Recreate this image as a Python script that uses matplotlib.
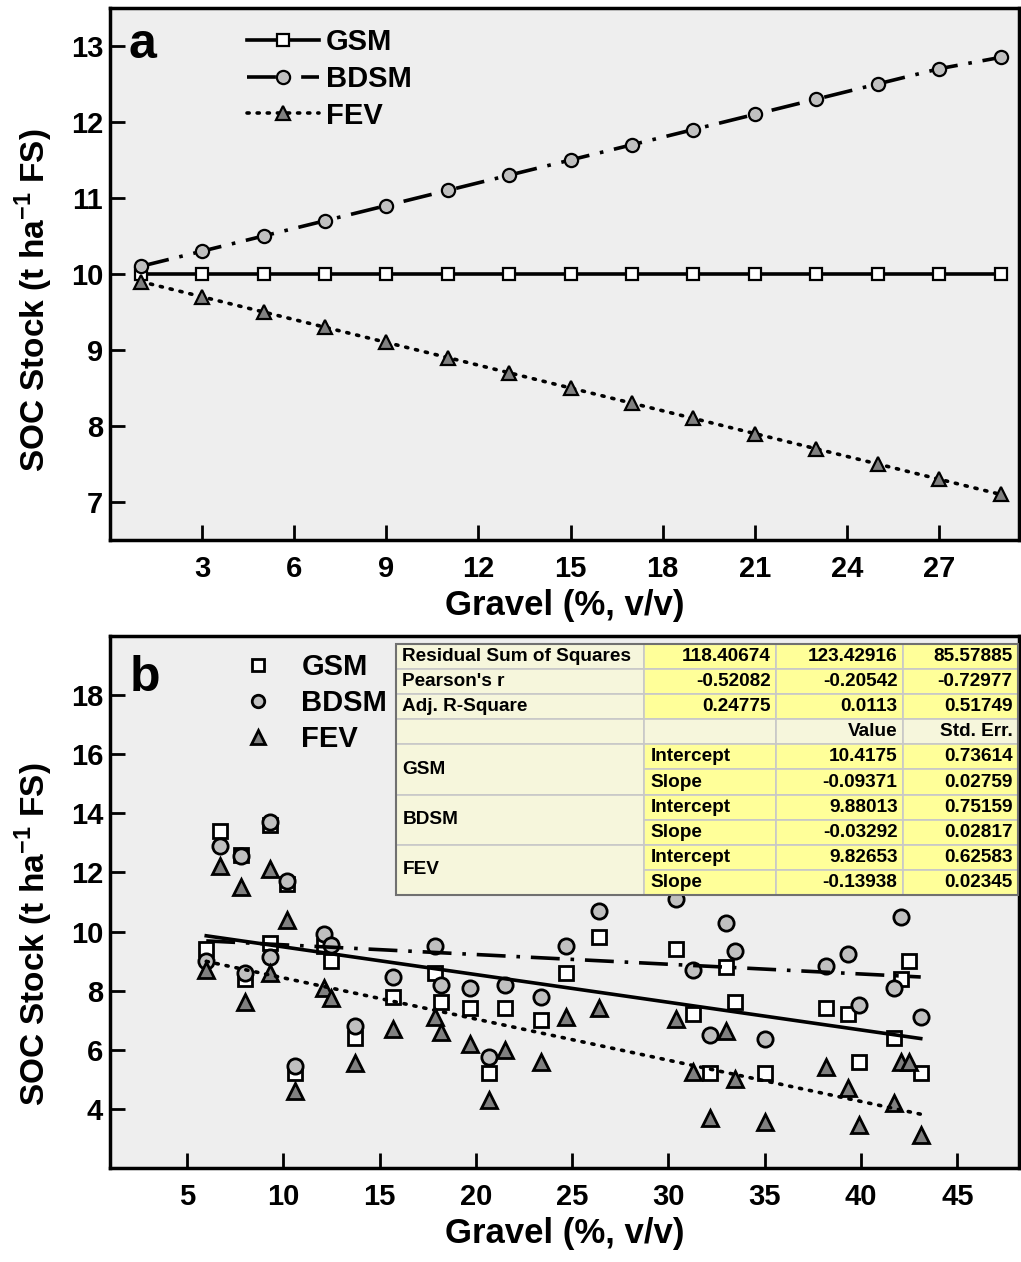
import numpy as np
import matplotlib
matplotlib.use('Agg')
import matplotlib.pyplot as plt
from matplotlib.patches import Rectangle
from matplotlib.lines import Line2D

plt.rcParams['font.family'] = ['Liberation Sans', 'DejaVu Sans']
plt.rcParams['font.weight'] = 'bold'
plt.rcParams['mathtext.fontset'] = 'custom'
plt.rcParams['mathtext.rm'] = 'Liberation Sans:bold'
plt.rcParams['mathtext.bf'] = 'Liberation Sans:bold'

# panel a: modelled stock vs gravel
gravel_a = [1, 3, 5, 7, 9, 11, 13, 15, 17, 19, 21, 23, 25, 27, 29]
gsm_a = [10, 10, 10, 10, 10, 10, 10, 10, 10, 10, 10, 10, 10, 10, 10]
bdsm_a = [10.1, 10.3, 10.5, 10.7, 10.9, 11.1, 11.3, 11.5, 11.7, 11.9, 12.1, 12.3, 12.5, 12.7, 12.85]
fev_a = [9.9, 9.7, 9.5, 9.3, 9.1, 8.9, 8.7, 8.5, 8.3, 8.1, 7.9, 7.7, 7.5, 7.3, 7.1]

# panel b: field samples
gravel_b = [6.0, 6.7, 7.8, 8.0, 9.3, 9.3, 10.2, 10.6, 12.1, 12.5, 13.7, 15.7, 17.9, 18.2,
            19.7, 20.7, 21.5, 23.4, 24.7, 26.4, 30.4, 31.25, 32.15, 33.0, 33.45, 35.0,
            38.2, 39.3, 39.9, 41.7, 42.1, 42.5, 43.1]
gsm_b = [9.4, 13.4, 12.6, 8.4, 13.6, 9.6, 11.6, 5.2, 9.5, 9.0, 6.4, 7.8, 8.6, 7.6,
         7.4, 5.2, 7.4, 7.0, 8.6, 9.8, 9.4, 7.2, 5.2, 8.8, 7.6, 5.2,
         7.4, 7.2, 5.6, 6.4, 8.4, 9.0, 5.2]
bdsm_b = [9.0, 12.9, 12.55, 8.6, 13.7, 9.15, 11.7, 5.45, 9.9, 9.55, 6.8, 8.45, 9.5, 8.2,
          8.1, 5.75, 8.2, 7.8, 9.5, 10.7, 11.1, 8.7, 6.5, 10.3, 9.35, 6.35,
          8.85, 9.25, 7.5, 8.1, 10.5, 11.7, 7.1]
fev_b = [8.7, 12.2, 11.5, 7.6, 12.1, 8.6, 10.4, 4.6, 8.1, 7.75, 5.55, 6.7, 7.1, 6.6,
         6.2, 4.3, 6.0, 5.6, 7.1, 7.4, 7.05, 5.25, 3.7, 6.65, 5.0, 3.55,
         5.4, 4.7, 3.45, 4.2, 5.6, 5.6, 3.1]

# fit table
methods = ['GSM', 'BDSM', 'FEV']
rss = ['118.40674', '123.42916', '85.57885']
pearson = ['-0.52082', '-0.20542', '-0.72977']
adj_r2 = ['0.24775', '0.0113', '0.51749']
intercepts = [10.4175, 9.88013, 9.82653]
intercept_err = ['0.73614', '0.75159', '0.62583']
slopes = [-0.09371, -0.03292, -0.13938]
slope_err = ['0.02759', '0.02817', '0.02345']

bg = '#eeeeee'
c_circ = '#c0c0c0'
c_tri = '#808080'
lw = 2.6

fig = plt.figure(figsize=(10.21, 12.62), dpi=100)
ax1 = fig.add_axes([0.1077, 0.5721, 0.8903, 0.4216])
ax2 = fig.add_axes([0.1077, 0.0745, 0.8903, 0.4216])

def style_axes(ax):
    ax.set_facecolor(bg)
    for s in ax.spines.values():
        s.set_linewidth(2.5)
    ax.tick_params(direction='in', length=11, width=2, labelsize=21)
    ax.tick_params(axis='x', pad=11)
    ax.tick_params(axis='y', pad=5)
    for lab in ax.get_xticklabels() + ax.get_yticklabels():
        lab.set_fontweight('bold')

ylab = 'SOC Stock (t ha$^{-1}$ FS)'

# ---- panel a ----
ax1.plot(gravel_a, gsm_a, '-', color='k', lw=lw, marker='s', ms=8,
         mfc='white', mec='k', mew=1.6, label='GSM')
ax1.plot(gravel_a, bdsm_a, color='k', lw=lw, dashes=(8, 3, 1, 3), marker='o', ms=9.5,
         mfc=c_circ, mec='k', mew=1.6, label='BDSM')
ax1.plot(gravel_a, fev_a, color='k', lw=lw, dashes=(0.6, 2.2), dash_capstyle='round',
         marker='^', ms=10, mfc=c_tri, mec='k', mew=1.6, label='FEV')
ax1.set_xlim(0, 29.6)
ax1.set_ylim(6.5, 13.5)
ax1.set_xticks([3, 6, 9, 12, 15, 18, 21, 24, 27])
ax1.set_yticks([7, 8, 9, 10, 11, 12, 13])
style_axes(ax1)
ax1.set_xlabel('Gravel (%, v/v)', fontsize=25, fontweight='bold', labelpad=4)
ax1.set_ylabel(ylab, fontsize=24, fontweight='bold')
ax1.yaxis.set_label_coords(-0.061, 0.45)
ax1.text(0.02, 0.93, 'a', transform=ax1.transAxes, fontsize=36, fontweight='bold',
         va='center', ha='left')
ax1.legend(loc='upper left', bbox_to_anchor=(0.151, 0.962), frameon=False,
           borderpad=0, borderaxespad=0,
           handlelength=2.45, handletextpad=0.25, labelspacing=0.3,
           prop={'size': 21, 'weight': 'bold'})

# ---- panel b ----
ax2.plot(gravel_b, gsm_b, 's', ms=10, mfc='white', mec='k', mew=2, label='GSM')
ax2.plot(gravel_b, bdsm_b, 'o', ms=11, mfc=c_circ, mec='k', mew=2, label='BDSM')
ax2.plot(gravel_b, fev_b, '^', ms=12, mfc=c_tri, mec='k', mew=2, label='FEV')

xfit = np.array([min(gravel_b), max(gravel_b)])
styles = [dict(ls='-'), dict(dashes=(8, 3, 1, 3)), dict(dashes=(0.6, 2.2), dash_capstyle='round')]
for b0, b1, st in zip(intercepts, slopes, styles):
    ax2.plot(xfit, b0 + b1 * xfit, color='k', lw=lw, **st)

ax2.set_xlim(1, 48.2)
ax2.set_ylim(2, 20)
ax2.set_xticks([5, 10, 15, 20, 25, 30, 35, 40, 45])
ax2.set_yticks([4, 6, 8, 10, 12, 14, 16, 18])
style_axes(ax2)
ax2.set_xlabel('Gravel (%, v/v)', fontsize=25, fontweight='bold', labelpad=4)
ax2.set_ylabel(ylab, fontsize=24, fontweight='bold')
ax2.yaxis.set_label_coords(-0.061, 0.44)
ax2.text(0.022, 0.92, 'b', transform=ax2.transAxes, fontsize=36, fontweight='bold',
         va='center', ha='left')
handles = [Line2D([], [], ls='none', marker='s', ms=9, mfc='white', mec='k', mew=2),
           Line2D([], [], ls='none', marker='o', ms=9, mfc=c_circ, mec='k', mew=2),
           Line2D([], [], ls='none', marker='^', ms=10, mfc=c_tri, mec='k', mew=2)]
ax2.legend(handles, methods, loc='upper left', bbox_to_anchor=(0.14, 0.968), frameon=False,
           borderpad=0, borderaxespad=0,
           handlelength=1.4, handletextpad=0.8, labelspacing=0.28,
           prop={'size': 21, 'weight': 'bold'})

# ---- fit table drawn in axes coords ----
cols = [0.3146, 0.5875, 0.7327, 0.8724, 0.999]
top, nrow = 0.985, 10
rh = (0.985 - 0.513) / nrow
beige = '#f6f6dc'
yellow = '#ffff99'
grid = '#c8c8c8'
tr = ax2.transAxes

def cell(r0, c0, nr, nc, color, text='', ha='right'):
    x0, x1 = cols[c0], cols[c0 + nc]
    y1 = top - r0 * rh
    y0 = y1 - nr * rh
    ax2.add_patch(Rectangle((x0, y0), x1 - x0, y1 - y0, transform=tr, fc=color,
                            ec=grid, lw=1.2, zorder=5, clip_on=False))
    if text:
        tx = x1 - 0.006 if ha == 'right' else x0 + 0.007
        ax2.text(tx, (y0 + y1) / 2, text, transform=tr, ha=ha, va='center',
                 fontsize=13.7, fontweight='bold', zorder=6)

rows_top = [('Residual Sum of Squares', rss), ("Pearson's r", pearson), ('Adj. R-Square', adj_r2)]
for i, (name, vals) in enumerate(rows_top):
    cell(i, 0, 1, 1, beige, name, ha='left')
    for j, v in enumerate(vals):
        cell(i, j + 1, 1, 1, yellow, v)
cell(3, 0, 1, 1, beige)
cell(3, 1, 1, 1, beige)
cell(3, 2, 1, 1, beige, 'Value')
cell(3, 3, 1, 1, beige, 'Std. Err.')
for k, m in enumerate(methods):
    r = 4 + 2 * k
    cell(r, 0, 2, 1, beige, m, ha='left')
    cell(r, 1, 1, 1, yellow, 'Intercept', ha='left')
    cell(r, 2, 1, 1, yellow, '%g' % intercepts[k])
    cell(r, 3, 1, 1, yellow, intercept_err[k])
    cell(r + 1, 1, 1, 1, yellow, 'Slope', ha='left')
    cell(r + 1, 2, 1, 1, yellow, '%.5f' % slopes[k])
    cell(r + 1, 3, 1, 1, yellow, slope_err[k])
ax2.add_patch(Rectangle((cols[0], top - nrow * rh), cols[-1] - cols[0], nrow * rh,
                        transform=tr, fc='none', ec='#707070', lw=1.5, zorder=7, clip_on=False))

fig.savefig('out.png', dpi=100)
